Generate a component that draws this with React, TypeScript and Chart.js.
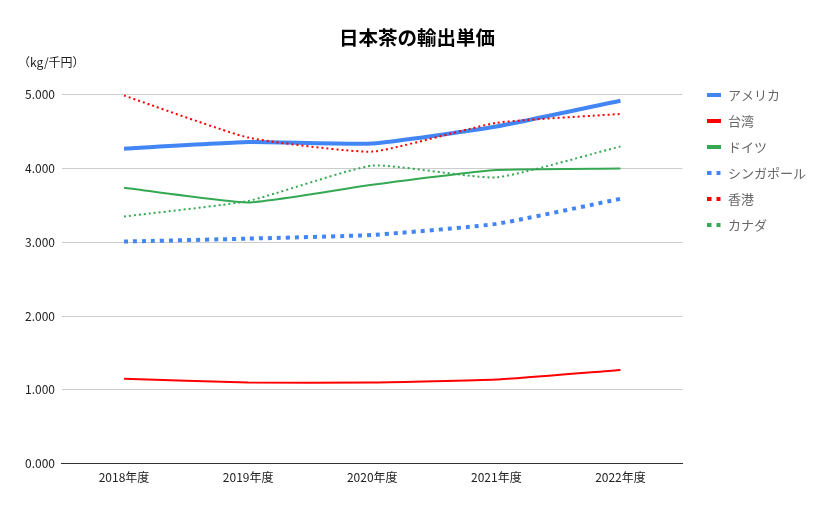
import React, { useEffect, useRef } from "react";
import { Chart, registerables } from "chart.js";

Chart.register(...registerables);

const categories = ["2018年度", "2019年度", "2020年度", "2021年度", "2022年度"];
const seriesNames = ["アメリカ", "台湾", "ドイツ", "シンガポール", "香港", "カナダ"];
const usa = [4.27, 4.36, 4.34, 4.57, 4.92];
const taiwan = [1.15, 1.10, 1.10, 1.14, 1.27];
const germany = [3.74, 3.54, 3.78, 3.98, 4.0];
const singapore = [3.01, 3.05, 3.1, 3.25, 3.59];
const hongkong = [4.99, 4.42, 4.23, 4.62, 4.74];
const canada = [3.35, 3.56, 4.04, 3.88, 4.3];
const yTicks = [0, 1, 2, 3, 4, 5];

const BLUE = "#4285F4";
const RED = "#FF0000";
const GREEN = "#34A853";
const FONT = "'Noto Sans CJK JP', 'Noto Sans', sans-serif";

function makeSwatch(color: string, dotted: boolean): HTMLCanvasElement {
  const c = document.createElement("canvas");
  c.width = 14;
  c.height = 4;
  const ctx = c.getContext("2d")!;
  ctx.fillStyle = color;
  if (dotted) {
    ctx.fillRect(0, 0, 4, 4);
    ctx.fillRect(9, 0, 4, 4);
  } else {
    ctx.fillRect(0, 0, 14, 4);
  }
  return c;
}

export default function App() {
  const ref = useRef<HTMLCanvasElement | null>(null);
  useEffect(() => {
    if (!ref.current) return;
    const series = [
      { data: usa, color: BLUE, width: 4, dash: [] as number[], dotted: false },
      { data: taiwan, color: RED, width: 2, dash: [], dotted: false },
      { data: germany, color: GREEN, width: 2, dash: [], dotted: false },
      { data: singapore, color: BLUE, width: 4, dash: [4, 5], dotted: true },
      { data: hongkong, color: RED, width: 2, dash: [2, 3], dotted: true },
      { data: canada, color: GREEN, width: 2, dash: [2, 3], dotted: true },
    ];
    const swatches = series.map((s) => makeSwatch(s.color, s.dotted));
    const chart = new Chart(ref.current, {
      type: "line",
      data: {
        labels: categories,
        datasets: series.map((s, i) => ({
          label: seriesNames[i],
          data: s.data,
          borderColor: s.color,
          backgroundColor: s.color,
          borderWidth: s.width,
          borderDash: s.dash,
          pointRadius: 0,
          tension: 0.15,
          fill: false,
          order: -i,
          clip: false as any,
        })),
      },
      options: {
        animation: false,
        responsive: false,
        maintainAspectRatio: false,
        layout: { padding: { left: 18, right: 17, top: 10, bottom: 17 } },
        plugins: {
          title: {
            display: true,
            text: "日本茶の輸出単価",
            color: "#000",
            font: { family: FONT, size: 19.5, weight: "bold" },
            padding: { top: 16, bottom: 6 },
          },
          subtitle: {
            display: true,
            text: "（kg/千円）",
            align: "start",
            color: "#222",
            font: { family: FONT, size: 12 },
            padding: { top: 0, bottom: 25 },
          },
          legend: {
            position: "right",
            align: "start",
            title: {
              display: true,
              text: "",
              font: { family: FONT, size: 10, lineHeight: 1.05 },
              padding: { top: 55, bottom: 0 },
            },
            labels: {
              usePointStyle: true,
              pointStyleWidth: 14,
              boxHeight: 4,
              padding: 13,
              color: "#222",
              font: { family: FONT, size: 13 },
              generateLabels: (ch: any) =>
                ch.data.datasets.map((d: any, i: number) => ({
                  text: d.label,
                  pointStyle: swatches[i],
                  fillStyle: d.borderColor,
                  strokeStyle: d.borderColor,
                  lineWidth: 0,
                  datasetIndex: i,
                  hidden: false,
                })),
            },
          },
          tooltip: { enabled: false },
        },
        scales: {
          x: {
            offset: true,
            grid: { display: false, drawTicks: false },
            border: { color: "#333", width: 1 },
            ticks: { color: "#222", font: { family: FONT, size: 12 }, padding: 7 },
          },
          y: {
            min: 0,
            max: 5,
            afterBuildTicks: (axis: any) => {
              axis.ticks = yTicks.map((v) => ({ value: v }));
            },
            grid: { color: "#ccc", drawTicks: false },
            border: { display: false },
            ticks: {
              color: "#222",
              font: { family: FONT, size: 12 },
              padding: 7,
              callback: (v: any) => Number(v).toFixed(3),
            },
          },
          yR: {
            position: "right",
            display: true,
            grid: { display: false, drawTicks: false },
            border: { display: false },
            ticks: { display: false },
            afterFit: (s: any) => {
              s.width = 12;
            },
          },
        },
      },
    });
    return () => chart.destroy();
  }, []);
  return (
    <div style={{ position: "fixed", left: 0, top: 0, width: 833, height: 509, background: "#fff" }}>
      <canvas ref={ref} width={833} height={509} style={{ width: 833, height: 509 }} />
    </div>
  );
}
